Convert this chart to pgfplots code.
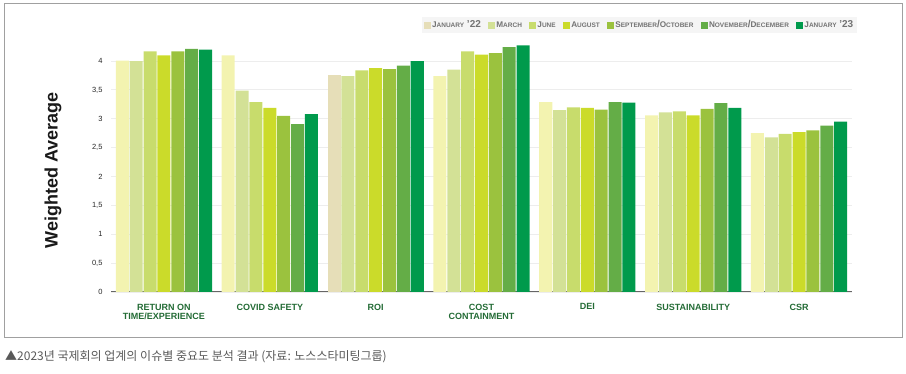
\documentclass[border=0pt]{standalone}
\usepackage{fontspec}
\setmainfont{Liberation Sans}
\newfontfamily\cjk{Noto Sans CJK KR}
\usepackage{pgfplots}
\pgfplotsset{compat=1.18}
\usepackage{pgfplotstable}

\definecolor{cA}{HTML}{F3F3B0}
\definecolor{cAb}{HTML}{E6DEB8}
\definecolor{cB}{HTML}{D3E196}
\definecolor{cC}{HTML}{C8DC6C}
\definecolor{cD}{HTML}{CBDB2A}
\definecolor{cE}{HTML}{9BC23E}
\definecolor{cF}{HTML}{64AD47}
\definecolor{cG}{HTML}{009A4C}
\definecolor{lblgreen}{HTML}{236B35}
\definecolor{framegray}{HTML}{A0A0A0}

\newcommand{\fsc}[2]{{\fontsize{8.2}{9}\selectfont #1}{\fontsize{6.5}{9}\selectfont #2}}

% x = group index, y = weighted average
\pgfplotstableread{
x y
0 4.01
1 4.10
3 3.74
4 3.29
5 3.06
6 2.75
}\janA
\pgfplotstableread{
x y
2 3.76
}\janAroi
\pgfplotstableread{
x y
0 4.00
1 3.49
2 3.74
3 3.85
4 3.15
5 3.11
6 2.68
}\mar
\pgfplotstableread{
x y
0 4.17
1 3.29
2 3.84
3 4.17
4 3.20
5 3.13
6 2.74
}\jun
\pgfplotstableread{
x y
0 4.10
1 3.19
2 3.88
3 4.11
4 3.19
5 3.06
6 2.77
}\aug
\pgfplotstableread{
x y
0 4.17
1 3.05
2 3.86
3 4.14
4 3.16
5 3.17
6 2.80
}\sepoct
\pgfplotstableread{
x y
0 4.21
1 2.91
2 3.92
3 4.24
4 3.29
5 3.27
6 2.88
}\novdec
\pgfplotstableread{
x y
0 4.20
1 3.08
2 4.00
3 4.27
4 3.28
5 3.19
6 2.95
}\janB

\begin{document}
\begin{tikzpicture}[x=1pt,y=1pt]
\useasboundingbox (0,0) rectangle (906,374);
\draw[framegray, line width=1pt] (4,36) rectangle (902.5,370.5);

\begin{axis}[
  at={(111pt,82pt)}, anchor=south west,
  scale only axis, width=741pt, height=254pt,
  xmin=-0.5, xmax=6.5, ymin=0, ymax=4.4,
  ybar, bar width=0.123,
  axis x line*=bottom, axis y line*=left,
  y axis line style={draw=none},
  x axis line style={draw=black!60, line width=1pt, -},
  tick style={draw=none},
  ymajorgrids, grid style={draw=black!7, line width=0.9pt},
  xtick={0,1,2,3,4,5,6},
  xticklabels={{RETURN ON\\TIME/EXPERIENCE},{COVID SAFETY},{ROI},{COST\\CONTAINMENT},{DEI},{SUSTAINABILITY},{CSR}},
  xticklabel style={font=\bfseries\fontsize{9}{9.5}\selectfont, text=lblgreen, align=center, yshift=-4pt},
  ytick={0,0.5,1,1.5,2,2.5,3,3.5,4},
  /pgf/number format/use comma,
  /pgf/number format/assume math mode=true,
  yticklabel style={font=\fontsize{7.5}{8}\selectfont, text=black!85, xshift=-5pt},
  every axis plot/.append style={draw=none},
  legend columns=-1,
  legend style={at={(1,1)}, anchor=north east, xshift=5pt, yshift=21pt,
    fill=black!4, draw=none, inner sep=2.5pt,
    font=\bfseries, text=black!55,
    nodes={inner sep=1pt},
    /tikz/every even column/.append style={column sep=6.5pt}},
  legend image code/.code={\fill[#1] (0pt,-3.5pt) rectangle (7pt,3.5pt);},
]
\addplot[fill=cA, bar shift=-0.393, forget plot] table[x=x,y=y] {\janA};
\addplot[fill=cAb, bar shift=-0.393] table[x=x,y=y] {\janAroi};
\addlegendentry{\fsc{J}{ANUARY} '22}
\addplot[fill=cB, bar shift=-0.262] table[x=x,y=y] {\mar};
\addlegendentry{\fsc{M}{ARCH}}
\addplot[fill=cC, bar shift=-0.131] table[x=x,y=y] {\jun};
\addlegendentry{\fsc{J}{UNE}}
\addplot[fill=cD, bar shift=0] table[x=x,y=y] {\aug};
\addlegendentry{\fsc{A}{UGUST}}
\addplot[fill=cE, bar shift=0.131] table[x=x,y=y] {\sepoct};
\addlegendentry{\fsc{S}{EPTEMBER}/\fsc{O}{CTOBER}}
\addplot[fill=cF, bar shift=0.262] table[x=x,y=y] {\novdec};
\addlegendentry{\fsc{N}{OVEMBER}/\fsc{D}{ECEMBER}}
\addplot[fill=cG, bar shift=0.393] table[x=x,y=y] {\janB};
\addlegendentry{\fsc{J}{ANUARY} '23}
\end{axis}

\node[rotate=90, font=\bfseries\fontsize{18}{20}\selectfont, text=black!90] at (53,203.5) {Weighted Average};
\node[anchor=west, inner sep=0pt, font=\cjk\fontsize{12}{14}\selectfont, text=black!65] at (5,17) {▲2023년 국제회의 업계의 이슈별 중요도 분석 결과 (자료: 노스스타미팅그룹)};
\end{tikzpicture}
\end{document}
